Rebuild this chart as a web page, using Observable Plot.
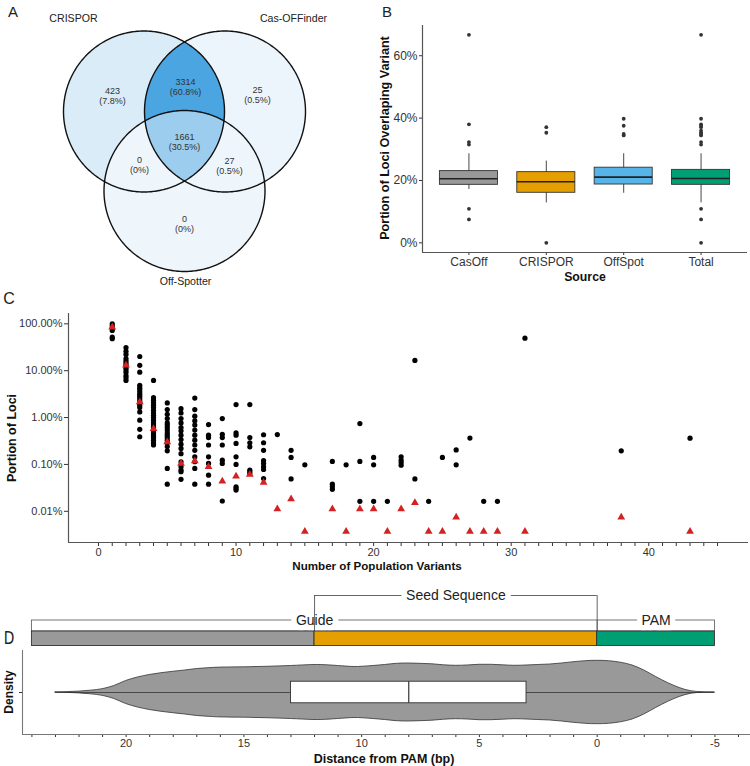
<!DOCTYPE html>
<html><head><meta charset="utf-8">
<script src="https://cdn.jsdelivr.net/npm/d3@7"></script>
<script src="https://cdn.jsdelivr.net/npm/@observablehq/plot@0.6"></script>
<style>
body{margin:0;background:#fff;}
#fig{position:relative;width:750px;height:766px;overflow:hidden;background:#fff;font-family:"Liberation Sans",Arial,Helvetica,sans-serif;color:#222;}
.lbl{position:absolute;white-space:nowrap;line-height:1;}
</style></head><body><div id="fig"></div>
<script>
// ---------------- DATA ----------------
// Panel A (Venn)
const vennSets = ["CRISPOR", "Cas-OFFinder", "Off-Spotter"];
const vennRegionSets = [[0], [0, 1], [1], [0, 1, 2], [0, 2], [1, 2], [2]];
const vennCounts = [423, 3314, 25, 1661, 0, 27, 0];

// Panel B (boxplots of portion of loci overlapping variant)
const sources = ["CasOff", "CRISPOR", "OffSpot", "Total"];
const sourceColors = ["#999999", "#E69F00", "#56B4E9", "#009E73"];
const boxLow = [0.171, 0.128, 0.159, 0.128];
const boxQ1 = [0.186, 0.1605, 0.187, 0.186];
const boxMedian = [0.2054, 0.196, 0.2107, 0.2064];
const boxQ3 = [0.230, 0.2267, 0.241, 0.234];
const boxHigh = [0.2857, 0.262, 0.2857, 0.2857];
const boxOutliers = [
  [0.667, 0.380, 0.323, 0.315, 0.109, 0.075],
  [0.371, 0.353, 0],
  [0.398, 0.3755, 0.349, 0.3445],
  [0.667, 0.398, 0.380, 0.3755, 0.371, 0.36, 0.353, 0.349, 0.3445, 0.323, 0.315, 0.109, 0.075, 0]
];

// Panel C (portion of loci vs number of population variants)
const variantCounts = [1,2,3,4,5,6,7,8,9,10,11,12,13,14,15,17,18,19,20,21,22,23,24,25,26,27,28,29,31,38,43];
const lociPortions = [
  [1.0, 0.9, 0.8, 0.72, 0.52, 0.48],
  [0.31, 0.26, 0.222, 0.18, 0.16, 0.145, 0.13, 0.116, 0.105, 0.093, 0.079, 0.071, 0.062],
  [0.201, 0.13, 0.093, 0.0487, 0.0435, 0.0394, 0.035, 0.0313, 0.0284, 0.0254, 0.0226, 0.0205, 0.0183, 0.0163, 0.0132, 0.0088, 0.0056, 0.0039],
  [0.062, 0.0266, 0.0233, 0.0205, 0.0183, 0.0163, 0.0143, 0.0125, 0.0112, 0.01, 0.0088, 0.0077, 0.0069, 0.0061, 0.0054, 0.0047, 0.0042, 0.00375, 0.0033, 0.0029, 0.0026],
  [0.0205, 0.0148, 0.0117, 0.0095, 0.0077, 0.0069, 0.0061, 0.0054, 0.0047, 0.0042, 0.00375, 0.0033, 0.0029, 0.0024, 0.00195, 0.00082, 0.00038],
  [0.0155, 0.0125, 0.0095, 0.0077, 0.0061, 0.0052, 0.0042, 0.0034, 0.0027, 0.0022, 0.0017, 0.00114, 0.00089, 0.00076, 0.0007, 0.00048],
  [0.0261, 0.0148, 0.0107, 0.0085, 0.0069, 0.0054, 0.0042, 0.0033, 0.0026, 0.002, 0.00145, 0.00114, 0.00082, 0.00038],
  [0.0071, 0.0042, 0.00375, 0.0026, 0.00145, 0.00105, 0.00059, 0.00038],
  [0.0095, 0.0044, 0.00375, 0.0026, 0.00123, 0.00105, 0.000166],
  [0.0189, 0.0047, 0.0042, 0.0028, 0.00145, 0.001, 0.000334, 0.000308, 0.000284],
  [0.0189, 0.00375, 0.0029, 0.00237, 0.00076, 0.0007, 0.00064],
  [0.0043, 0.0029, 0.002, 0.00121, 0.00105, 0.00089, 0.00078, 0.0005],
  [0.00434],
  [0.002, 0.00141, 0.00049],
  [0.00098],
  [0.00116, 0.00038, 0.000334, 0.000294],
  [0.00098],
  [0.00745, 0.00116, 0.000163],
  [0.00141, 0.00098, 0.000163],
  [0.000163],
  [0.00145, 0.00123, 0.00108, 0.00096],
  [0.1656, 0.00049],
  [0.000163],
  [0.00141],
  [0.00204, 0.00098],
  [0.00365],
  [0.000163],
  [0.000163],
  [0.494],
  [0.00195],
  [0.00363]
];
const meanPortions = [0.85, 0.13, 0.0215, 0.0058, 0.0030, 0.00105, 0.00119, 0.00089, 0.00044, 0.00056, 0.00061, 0.00041, 0.000112, 0.000183, 0.000037,
  0.000112, 0.000037, 0.000112, 0.000112, 0.000037, 0.000112, 0.000152, 0.000037, 0.000037, 0.0000745, 0.000037, 0.000037, 0.000037, 0.000037, 0.0000745, 0.000037];

// Panel D (protospacer structure + violin of variant positions)
const segmentNames = ["Guide (non-seed)", "Seed", "PAM"];
const segmentStart = [24, 12, 0];
const segmentEnd = [12, 0, -5];
const segmentColors = ["#999999", "#E69F00", "#009E73"];
const bracketLabels = ["Guide", "PAM"];
const bracketCenters = [12, -2.5];
const violinDistance = [23, 22.5, 22, 21.5, 21, 20.5, 20, 19.5, 19, 18.5, 18, 17.5, 17, 16.5, 16, 15, 14, 13, 12, 11.5, 11, 10.3, 10, 9.5, 9, 8.5, 8, 7.5, 7, 6.5, 6, 5.5, 5, 4.5, 4, 3.5, 3, 2.5, 2, 1.5, 1, 0.5, 0, -0.5, -1, -1.5, -2, -2.5, -3, -3.5, -4, -4.5, -5];
const violinDensity = [0, 0.012, 0.028, 0.057, 0.104, 0.205, 0.363, 0.473, 0.552, 0.609, 0.653, 0.694, 0.74, 0.767, 0.785, 0.795, 0.811, 0.836, 0.868, 0.861, 0.836, 0.804, 0.811, 0.836, 0.868, 0.905, 0.915, 0.905, 0.89, 0.858, 0.842, 0.852, 0.874, 0.874, 0.858, 0.842, 0.852, 0.868, 0.883, 0.915, 0.956, 0.987, 1, 0.987, 0.94, 0.852, 0.694, 0.489, 0.3, 0.142, 0.038, 0.009, 0];
const distStats = {min: 23, q1: 13, median: 8, q3: 3, max: -5};

// ---------------- HELPERS ----------------
const FONT = '"Liberation Sans", Arial, Helvetica, sans-serif';
const fig = document.getElementById("fig");
function place(svg, left, top) {
  svg.style.position = "absolute";
  svg.style.left = left + "px";
  svg.style.top = top + "px";
  fig.appendChild(svg);
}
function label(text, x, y, o = {}) {
  const d = document.createElement("div");
  d.className = "lbl";
  d.textContent = text;
  d.style.left = x + "px";
  d.style.top = y + "px";
  d.style.fontSize = (o.size || 12) + "px";
  d.style.fontWeight = o.weight || "normal";
  d.style.color = o.color || "#222";
  d.style.fontFamily = o.family || FONT;
  d.style.transform = "translate(-50%,-50%)" + (o.rotate ? ` rotate(${o.rotate}deg)` : "") + (o.sx ? ` scaleX(${o.sx})` : "");
  fig.appendChild(d);
}
const baseStyle = {fontFamily: FONT, color: "#333", background: "transparent", overflow: "visible"};

// ---------------- PANEL A : Venn ----------------
{
  const R = 80.5;
  const centers = [[143.5, 111], [224.5, 111], [184, 190.5]];
  const setLabelPos = [[73, 18], [293, 18], [185, 281]];
  const regionLabelPos = [[112, 95], [185, 86], [257, 94.5], [184, 141], [139, 164.5], [229, 165], [184, 223]];
  const total = d3.sum(vennCounts);
  const color = d3.scaleLinear().domain([0, d3.max(vennCounts)]).range(["#eef6fc", "#4aa5e0"]);
  const circle = (c, n = 360) => d3.range(n + 1).map(i => {
    const t = 2 * Math.PI * i / n;
    return {x: c[0] + R * Math.cos(t), y: c[1] + R * Math.sin(t)};
  });
  const inside = (p, c) => (p.x - c[0]) ** 2 + (p.y - c[1]) ** 2 <= R * R + 1e-6;
  const intersection = idx => {
    const pts = [];
    idx.forEach(i => circle(centers[i], 1440).forEach(p => {
      if (idx.every(j => j === i || inside(p, centers[j]))) pts.push(p);
    }));
    const cx = d3.mean(pts, p => p.x), cy = d3.mean(pts, p => p.y);
    pts.sort((a, b) => Math.atan2(a.y - cy, a.x - cx) - Math.atan2(b.y - cy, b.x - cx));
    pts.push(pts[0]);
    return pts;
  };
  const countOf = sets => vennCounts[vennRegionSets.findIndex(r => r.join() === sets.join())];
  const pct = c => c === 0 ? "0%" : (c / total * 100).toFixed(1) + "%";
  const regionText = vennCounts.map((c, i) => ({x: regionLabelPos[i][0], y: regionLabelPos[i][1], t: `${c}\n(${pct(c)})`}));
  const setText = vennSets.map((s, i) => ({x: setLabelPos[i][0], y: setLabelPos[i][1], t: s}));
  const svg = Plot.plot({
    width: 370, height: 290, margin: 0,
    x: {domain: [0, 370], range: [0, 370], axis: null},
    y: {domain: [0, 290], range: [0, 290], axis: null},
    style: baseStyle,
    marks: [
      Plot.line(circle(centers[0]), {x: "x", y: "y", fill: color(countOf([0])), stroke: "none"}),
      Plot.line(circle(centers[1]), {x: "x", y: "y", fill: color(countOf([1])), stroke: "none"}),
      Plot.line(circle(centers[2]), {x: "x", y: "y", fill: color(countOf([2])), stroke: "none"}),
      Plot.line(intersection([0, 1]), {x: "x", y: "y", fill: color(countOf([0, 1])), stroke: "none"}),
      Plot.line(intersection([0, 1, 2]), {x: "x", y: "y", fill: color(countOf([0, 1, 2])), stroke: "none"}),
      ...centers.map(c => Plot.line(circle(c), {x: "x", y: "y", stroke: "#111", strokeWidth: 1.4, fill: "none"})),
      Plot.text(regionText, {x: "x", y: "y", text: "t", fontSize: 9, lineHeight: 1.12, fill: "#333"}),
      Plot.text(setText, {x: "x", y: "y", text: "t", fontSize: 10.6, fill: "#222"})
    ]
  });
  place(svg, 0, 0);
}

// ---------------- PANEL B : boxplots ----------------
{
  const rows = sources.map((s, i) => ({i, s, lo: boxLow[i], q1: boxQ1[i], med: boxMedian[i], q3: boxQ3[i], hi: boxHigh[i], col: sourceColors[i]}));
  const outs = boxOutliers.flatMap((arr, i) => arr.map(v => ({i, v})));
  const xmin = -0.6, xmax = 3.6, ymin = -0.031, ymax = 0.697;
  const svg = Plot.plot({
    width: 380, height: 300, marginLeft: 52, marginRight: 3, marginTop: 25, marginBottom: 48,
    style: {...baseStyle, fontSize: "12px"},
    x: {domain: [xmin, xmax], ticks: d3.range(sources.length), tickFormat: i => sources[i], tickSize: 3, tickPadding: 2, label: null},
    y: {domain: [ymin, ymax], ticks: [0, 0.2, 0.4, 0.6], tickFormat: d => Math.round(d * 100) + "%", tickSize: 3, tickPadding: 2, label: null},
    color: {type: "identity"},
    marks: [
      Plot.ruleX([xmin], {stroke: "#555", strokeWidth: 1.2}),
      Plot.ruleY([ymin], {stroke: "#555", strokeWidth: 1.2}),
      Plot.ruleX(rows, {x: "i", y1: "lo", y2: "hi", stroke: "#333", strokeWidth: 0.9}),
      Plot.rect(rows, {x1: d => d.i - 0.375, x2: d => d.i + 0.375, y1: "q1", y2: "q3", fill: "col", stroke: "#333", strokeWidth: 0.9}),
      Plot.ruleY(rows, {y: "med", x1: d => d.i - 0.375, x2: d => d.i + 0.375, stroke: "#222", strokeWidth: 1.6}),
      Plot.dot(outs, {x: "i", y: "v", r: 1.9, fill: "#333", stroke: "none"})
    ]
  });
  place(svg, 370, 0);
  label("Portion of Loci Overlaping Variant", 385, 137.5, {size: 12.6, weight: "bold", rotate: -90, color: "#111"});
  label("Source", 585, 277, {size: 12.3, weight: "bold", color: "#111"});
}

// ---------------- PANEL C : scatter ----------------
{
  const pts = variantCounts.flatMap((n, i) => lociPortions[i].map(v => ({n, v})));
  const means = variantCounts.map((n, i) => ({n, v: meanPortions[i]}));
  const xmin = -2.18, xmax = 47.25, ymin = 2.16e-5, ymax = 1.66;
  const svg = Plot.plot({
    width: 750, height: 290, marginLeft: 68, marginRight: 2, marginTop: 23, marginBottom: 38,
    style: {...baseStyle, fontSize: "11px"},
    x: {domain: [xmin, xmax], ticks: d3.range(0, 46), tickFormat: d => d % 10 === 0 ? String(d) : "", tickSize: 4, tickPadding: 2, label: null},
    y: {type: "log", domain: [ymin, ymax], ticks: [1e-4, 1e-3, 1e-2, 1e-1, 1], tickFormat: d => (d * 100).toFixed(2) + "%", tickSize: 4, tickPadding: 2, label: null},
    marks: [
      Plot.ruleX([xmin], {stroke: "#555", strokeWidth: 1.2}),
      Plot.ruleY([ymin], {stroke: "#555", strokeWidth: 1.2}),
      Plot.dot(pts, {x: "n", y: "v", r: 2.6, fill: "#000", stroke: "none"}),
      Plot.dot(means, {x: "n", y: "v", r: 2.9, symbol: "triangle", fill: "#d42222", stroke: "none"})
    ]
  });
  place(svg, 0, 290);
  label("Portion of Loci", 12, 438, {size: 12.5, weight: "bold", rotate: -90, color: "#111"});
  label("Number of Population Variants", 377, 566, {size: 11.6, weight: "bold", color: "#111"});
}

// ---------------- PANEL D : structure + violin ----------------
{
  const xdom = [24.4, -6.51];
  const segs = segmentNames.map((s, i) => ({s, a: segmentStart[i], b: segmentEnd[i], col: segmentColors[i]}));
  const brk = bracketLabels.map((t, i) => ({t, x: bracketCenters[i]}));
  const seedStart = segmentStart[1], seedEnd = segmentEnd[1];
  const guideStart = segmentStart[0], pamEnd = segmentEnd[2];
  // structure diagram (local pixel rows: bracket 15, label bar 40-51, colour bar 51-65.5)
  const s1 = Plot.plot({
    width: 750, height: 68, marginLeft: 22, marginRight: 0, marginTop: 0, marginBottom: 0,
    style: {...baseStyle, fontSize: "14px"},
    x: {domain: xdom, axis: null},
    y: {domain: [0, 68], range: [0, 68], axis: null},
    color: {type: "identity"},
    marks: [
      Plot.rect([0], {x1: guideStart, x2: pamEnd, y1: 40, y2: 51, fill: "white", stroke: "#666", strokeWidth: 0.9}),
      Plot.ruleX([segmentEnd[0] === seedStart ? 0 : 0], {x: seedEnd, y1: 40, y2: 51, stroke: "#666", strokeWidth: 0.9}),
      Plot.text(brk, {x: "x", y: 40, text: "t", fontSize: 14, fill: "#222", stroke: "white", strokeWidth: 11}),
      Plot.ruleY([15], {x1: seedStart, x2: seedEnd, stroke: "#555", strokeWidth: 0.9}),
      Plot.ruleX([seedStart, seedEnd], {y1: 15, y2: 51, stroke: "#555", strokeWidth: 0.9}),
      Plot.text(["Seed Sequence"], {x: (seedStart + seedEnd) / 2, y: 15, text: d => d, fontSize: 14, fill: "#222", stroke: "white", strokeWidth: 11}),
      Plot.rect(segs, {x1: "a", x2: "b", y1: 51, y2: 65.5, fill: "col", stroke: "#333", strokeWidth: 0.9})
    ]
  });
  place(s1, 0, 580);
  label("D", 9, 638, {size: 18, color: "#222", family: '"DejaVu Sans Condensed", "Liberation Sans Narrow", Arial, sans-serif', sx: 0.85});

  const vrows = violinDistance.map((p, i) => ({p, d: violinDensity[i]}));
  const boxH = 0.34;
  const s2 = Plot.plot({
    width: 750, height: 121, marginLeft: 22, marginRight: 0, marginTop: 5, marginBottom: 32,
    style: {...baseStyle, fontSize: "11px"},
    x: {domain: xdom, ticks: d3.range(-6, 25), tickFormat: d => d % 5 === 0 ? String(d) : "", tickSize: 3, tickPadding: 2, label: null},
    y: {domain: [-1.325, 1.325], ticks: [0], tickFormat: () => "", tickSize: 3, label: null},
    marks: [
      Plot.ruleX([xdom[0]], {stroke: "#777", strokeWidth: 1.1}),
      Plot.ruleY([-1.325], {stroke: "#777", strokeWidth: 1.1}),
      Plot.areaY(vrows, {x: "p", y1: d => -d.d, y2: "d", fill: "#999999", stroke: "#333", strokeWidth: 0.8, curve: "catmull-rom"}),
      Plot.ruleY([0], {x1: distStats.min, x2: distStats.max, stroke: "#333", strokeWidth: 0.8}),
      Plot.rect([distStats], {x1: "q1", x2: "q3", y1: -boxH, y2: boxH, fill: "white", stroke: "#333", strokeWidth: 0.9}),
      Plot.ruleX([distStats], {x: "median", y1: -boxH, y2: boxH, stroke: "#333", strokeWidth: 1.2})
    ]
  });
  place(s2, 0, 645);
  label("Density", 9, 692, {size: 12, weight: "bold", rotate: -90, color: "#111"});
  label("Distance from PAM (bp)", 384, 759, {size: 12.5, weight: "bold", color: "#111"});
}

// panel letters
label("A", 13, 11, {size: 15});
label("B", 387, 11, {size: 15});
label("C", 9, 299, {size: 16});
</script></body></html>
